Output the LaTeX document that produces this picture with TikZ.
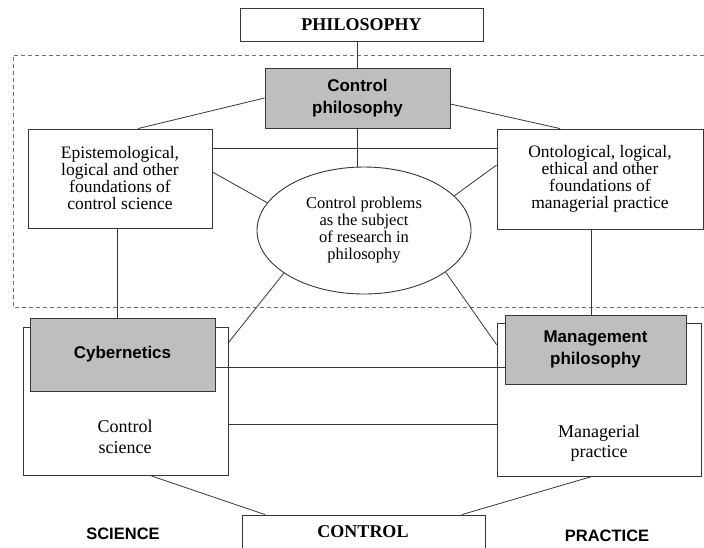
\documentclass[tikz,border=0pt]{standalone}
\usepackage{fontspec}
\setmainfont{Liberation Serif}
\newfontfamily\sansfam{Liberation Sans}
\usetikzlibrary{shapes.geometric}
\definecolor{boxgray}{RGB}{190,190,190}
\definecolor{edge}{RGB}{55,55,55}
\definecolor{dashgray}{RGB}{110,110,110}
\begin{document}
\begin{tikzpicture}[x=1pt,y=-1pt,
  box/.style={draw=edge,line width=0.9pt,fill=white,rectangle,inner sep=0pt,align=center},
  graybox/.style={box,fill=boxgray,font=\sansfam\bfseries\fontsize{17}{22}\selectfont},
  serif/.style={font=\fontsize{17.5}{17}\selectfont},
  label/.style={inner sep=0pt,align=center},
  conn/.style={draw=edge,line width=0.8pt}]
\path[use as bounding box] (0,0) rectangle (704,547);
% dashed region
\draw[dashgray,line width=0.8pt,dash pattern=on 4pt off 3pt] (704,55) -- (13,55) -- (13,307) -- (704,307);
% top
\node[box,minimum width=243pt,minimum height=33pt,font=\bfseries\fontsize{18}{20}\selectfont] (phil) at (361.5,24.5) {PHILOSOPHY};
\node[graybox,minimum width=185pt,minimum height=60pt] (cphil) at (357.5,98) {Control\\philosophy};
\node[box,serif,minimum width=184pt,minimum height=99pt] (epi) at (120,178.5) {Epistemological,\\logical and other\\foundations of\\control science};
\node[box,serif,minimum width=206pt,minimum height=100pt] (onto) at (600,179) {Ontological, logical,\\ethical and other\\foundations of\\managerial practice};
\node[draw=edge,line width=0.9pt,fill=white,ellipse,inner sep=0pt,minimum width=214pt,minimum height=127pt,align=center,font=\fontsize{16.5}{17}\selectfont] (ell) at (364,230.5) {Control problems\\as the subject\\of research in\\philosophy};
% bottom boxes
\node[box,minimum width=205pt,minimum height=148pt] (cs) at (125.5,401) {};
\node[label,font=\fontsize{18}{21.5}\selectfont] (cstext) at (125,437) {Control\\science};
\node[graybox,minimum width=185pt,minimum height=73pt] (cyb) at (122.5,354.5) {Cybernetics};
\node[box,minimum width=204pt,minimum height=153pt] (mp) at (599,399.5) {};
\node[label,font=\fontsize{18}{20.5}\selectfont] (mptext) at (599,443) {Managerial\\practice};
\node[graybox,minimum width=181pt,minimum height=69pt] (mgmt) at (595.5,349.5) {Management\\philosophy};
\node[box,minimum width=243pt,minimum height=60pt] (ctrl) at (363.5,545) {};
\node[label,font=\bfseries\fontsize{18}{20}\selectfont] (ctrltext) at (363,532) {CONTROL};
\node[label,font=\sansfam\bfseries\fontsize{16.5}{18}\selectfont] (sci) at (123,534) {SCIENCE};
\node[label,font=\sansfam\bfseries\fontsize{16.5}{18}\selectfont] (prac) at (607,536) {PRACTICE};
% connectors
\draw[conn] (phil.south -| cphil.north) -- (cphil.north);
\draw[conn] (cphil.south) -- (cphil.south |- ell.north);
\draw[conn] (cphil.west) -- ([xshift=18pt]epi.north);
\draw[conn] ([yshift=-6pt]cphil.east) -- ([xshift=-40pt]onto.north);
\draw[conn] ([yshift=30.5pt]epi.east) -- ([yshift=30.5pt]epi.east -| onto.west);
\draw[conn] ([yshift=6.5pt]epi.east) -- (ell.164);
\draw[conn] ([yshift=14pt]onto.west) -- (ell.21);
\draw[conn] (ell.208) -- ([yshift=-16pt]cs.north east);
\draw[conn] (ell.-27) -- ([yshift=-22pt]mp.north west);
\draw[conn] ([xshift=-3pt]epi.south) -- ([xshift=-3pt]epi.south |- cyb.north);
\draw[conn] ([xshift=-9pt]onto.south) -- ([xshift=-9pt]onto.south |- mgmt.north);
\draw[conn] ([yshift=-12.5pt]cyb.east) -- ([yshift=-12.5pt]cyb.east -| mgmt.west);
\draw[conn] ([yshift=-23pt]cs.east) -- ([yshift=-23pt]cs.east -| mp.west);
\draw[conn] ([xshift=24.5pt]cs.south) -- ([xshift=-98.5pt]ctrl.north);
\draw[conn] ([xshift=-7pt]mp.south) -- ([xshift=98.5pt]ctrl.north);
\end{tikzpicture}
\end{document}
